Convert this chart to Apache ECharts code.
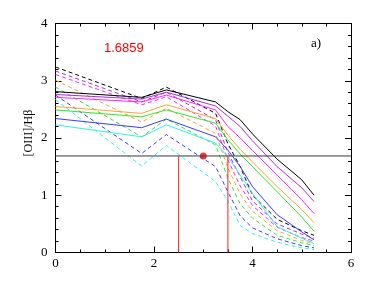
<!DOCTYPE html>
<html><head><meta charset="utf-8">
<script src="https://cdn.jsdelivr.net/npm/echarts@6/dist/echarts.min.js"></script>
<style>html,body{margin:0;padding:0;background:#fff}#c{width:376px;height:291px}</style>
</head><body><div id="c"></div>
<script>
// x nodes shared by all model curves
const xNodes = [0, 1.75, 2.25, 3.25, 3.5, 3.75, 4, 4.5, 5, 5.25];
// solid curves
const solidBlack   = [2.81, 2.71, 2.84, 2.63, 2.46, 2.32, 2.07, 1.63, 1.27, 1.00];
const solidPurple  = [2.76, 2.68, 2.80, 2.56, 2.38, 2.20, 1.95, 1.50, 1.13, 0.89];
const solidMagenta = [2.71, 2.63, 2.75, 2.49, 2.20, 2.00, 1.78, 1.35, 0.92, 0.68];
const solidOrange  = [2.55, 2.43, 2.58, 2.34, 2.05, 1.80, 1.58, 1.15, 0.75, 0.52];
const solidGreen   = [2.49, 2.37, 2.49, 2.26, 1.97, 1.72, 1.50, 1.06, 0.62, 0.37];
const solidBlue    = [2.34, 2.18, 2.33, 2.02, 1.79, 1.50, 1.15, 0.66, 0.36, 0.22];
const solidCyan    = [2.23, 2.02, 2.23, 1.91, 1.67, 1.35, 1.03, 0.45, 0.25, 0.16];
// dashed curves
const dashBlack   = [3.24, 2.69, 2.89, 2.43, 1.90, 1.50, 1.00, 0.58, 0.38, 0.30];
const dashPurple  = [3.17, 2.63, 2.80, 2.32, 1.75, 1.32, 0.90, 0.50, 0.32, 0.25];
const dashMagenta = [3.11, 2.58, 2.72, 2.21, 1.62, 1.16, 0.82, 0.44, 0.26, 0.20];
const dashOrange  = [3.01, 2.28, 2.52, 2.08, 1.48, 1.02, 0.72, 0.38, 0.21, 0.15];
const dashGreen   = [2.89, 2.02, 2.33, 1.88, 1.30, 0.85, 0.60, 0.30, 0.17, 0.12];
const dashBlue    = [2.75, 1.73, 2.06, 1.50, 1.06, 0.64, 0.43, 0.24, 0.12, 0.08];
const dashCyan    = [2.67, 1.51, 1.87, 1.24, 0.90, 0.47, 0.33, 0.18, 0.08, 0.05];
// reference values
const refValue = 1.6859;
const refLabel = '1.6859';
const redLinesX = [2.5, 3.5];
const redPoint = [3, 1.6859];
const xTicks = [0, 2, 4, 6];
const yTicks = [0, 1, 2, 3, 4];

const colors = {black:'#000000', purple:'#a52ee0', magenta:'#ff22ff', orange:'#ffa030', green:'#2ee62e', blue:'#3a3aff', cyan:'#2ef0f0'};
const solids = [[solidBlack,'black'],[solidPurple,'purple'],[solidMagenta,'magenta'],[solidOrange,'orange'],[solidGreen,'green'],[solidBlue,'blue'],[solidCyan,'cyan']];
const dashes = [[dashBlack,'black'],[dashPurple,'purple'],[dashMagenta,'magenta'],[dashOrange,'orange'],[dashGreen,'green'],[dashBlue,'blue'],[dashCyan,'cyan']];

const series = [];
function addLine(vals, col, dashed){
  series.push({type:'line', xAxisIndex:0, yAxisIndex:0, symbol:'none', silent:true, animation:false,
    data: xNodes.map((x,i)=>[x, vals[i]]),
    lineStyle:{color:colors[col], width:1, type: dashed ? [4,3] : 'solid'}});
}
dashes.forEach(d=>addLine(d[0], d[1], true));
solids.forEach(s=>addLine(s[0], s[1], false));
series.push({type:'line', symbol:'none', animation:false, data:[[0,refValue],[6,refValue]], lineStyle:{color:'#3a3a3a', width:1}});
redLinesX.forEach(x=>series.push({type:'line', symbol:'none', animation:false, data:[[x,0],[x,refValue]], lineStyle:{color:'#ff2020', width:1}}));
series.push({type:'scatter', animation:false, data:[redPoint], symbolSize:7, itemStyle:{color:'#ff0000'}});

const fontS = 'Liberation Serif';
const chart = echarts.init(document.getElementById('c'), null, {renderer:'canvas'});
const axisCommon = {
  axisLine:{show:true, onZero:false, lineStyle:{color:'#000', width:1}},
  splitLine:{show:false},
};
chart.setOption({
  animation:false,
  grid:{left:55.5, right:25, top:23.5, bottom:38.5, containLabel:false},
  xAxis:[
    Object.assign({type:'value', min:0, max:6, interval:2, position:'bottom',
      axisTick:{inside:true, length:6, lineStyle:{color:'#000'}},
      minorTick:{show:true, splitNumber:4, length:3, lineStyle:{color:'#000'}},
      axisLabel:{margin:5, color:'#000', fontFamily:fontS, fontSize:13, formatter:v=>xTicks.includes(v)?String(v):''}}, axisCommon),
    Object.assign({type:'value', min:0, max:6, interval:2, position:'top',
      axisTick:{inside:true, length:6, lineStyle:{color:'#000'}},
      minorTick:{show:true, splitNumber:4, length:3, lineStyle:{color:'#000'}},
      axisLabel:{show:false}}, axisCommon)
  ],
  yAxis:[
    Object.assign({type:'value', min:0, max:4, interval:1, position:'left',
      axisTick:{inside:true, length:6, lineStyle:{color:'#000'}},
      minorTick:{show:true, splitNumber:5, length:3, lineStyle:{color:'#000'}},
      axisLabel:{margin:8, color:'#000', fontFamily:fontS, fontSize:13, formatter:v=>yTicks.includes(v)?String(v):''}}, axisCommon),
    Object.assign({type:'value', min:0, max:4, interval:1, position:'right',
      axisTick:{inside:true, length:6, lineStyle:{color:'#000'}},
      minorTick:{show:true, splitNumber:5, length:3, lineStyle:{color:'#000'}},
      axisLabel:{show:false}}, axisCommon)
  ],
  series: series,
  graphic:[
    {type:'text', left:104, top:42, style:{text:refLabel, fill:'#ff0000', font:'13px "Liberation Sans"'}},
    {type:'text', left:311, top:37, style:{text:'a)', fill:'#000', font:'13px "Liberation Serif"'}},
    {type:'text', x:28.5, y:133, rotation:Math.PI/2, style:{text:'[OIII]/Hβ', fill:'#000', font:'12px "Liberation Serif"', align:'center', verticalAlign:'middle'}}
  ]
});
</script></body></html>
